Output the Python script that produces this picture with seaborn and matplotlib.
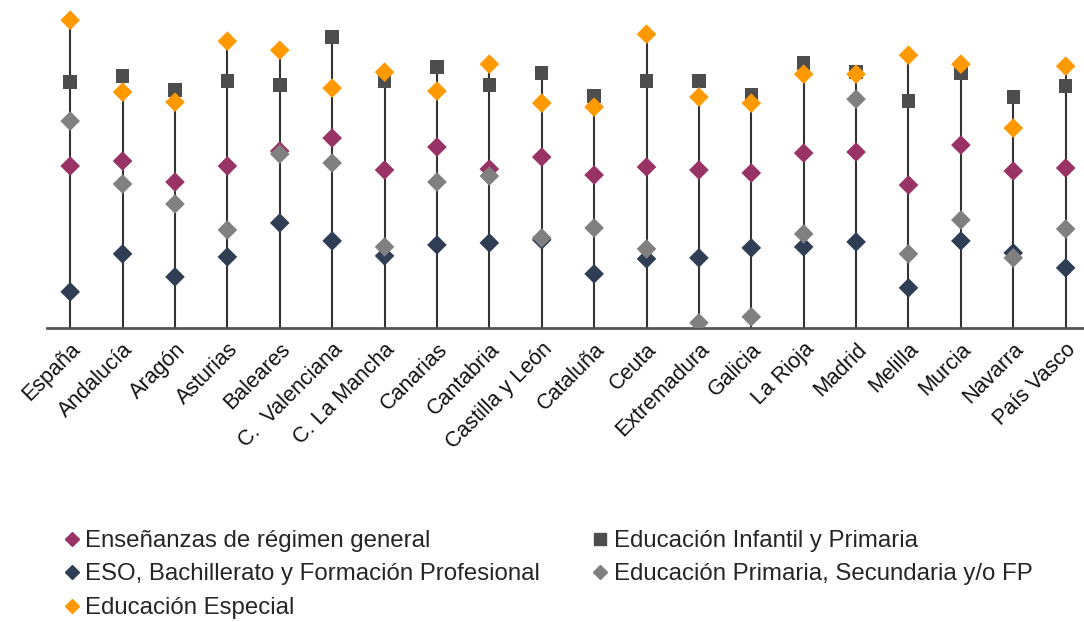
import matplotlib
matplotlib.use("Agg")
import matplotlib.pyplot as plt
from matplotlib.lines import Line2D
import pandas as pd
import seaborn as sns

# heights above the baseline (arbitrary units)
regions = [
    "España", "Andalucía", "Aragón", "Asturias", "Baleares", "C.  Valenciana",
    "C. La Mancha", "Canarias", "Cantabria", "Castilla y León", "Cataluña",
    "Ceuta", "Extremadura", "Galicia", "La Rioja", "Madrid", "Melilla",
    "Murcia", "Navarra", "País Vasco",
]
general = [162, 167, 146, 162, 177, 190, 158, 181, 159, 171, 153,
           161, 158, 155, 175, 176, 143, 183, 157, 160]
infantil_primaria = [246, 252, 238, 247, 243, 291, 247, 261, 243, 255, 232,
                     247, 247, 233, 265, 256, 227, 255, 231, 242]
eso_bach_fp = [36, 74, 51, 71, 105, 87, 72, 83, 85, 88, 54,
               69, 70, 80, 81, 86, 40, 87, 75, 60]
primaria_secundaria_fp = [207, 144, 124, 98, 174, 165, 81, 146, 152, 90, 100,
                          79, 5, 11, 94, 229, 74, 108, 70, 99]
especial = [308, 236, 226, 287, 278, 240, 256, 237, 264, 225, 221,
            294, 231, 225, 254, 254, 273, 264, 200, 262]

series_names = [
    "Enseñanzas de régimen general",
    "Educación Infantil y Primaria",
    "ESO, Bachillerato y Formación Profesional",
    "Educación Primaria, Secundaria y/o FP",
    "Educación Especial",
]
series_values = [general, infantil_primaria, eso_bach_fp,
                 primaria_secundaria_fp, especial]
colors = ["#993366", "#4d4d4d", "#2f3e55", "#808080", "#ff9900"]
markers = ["D", "s", "D", "D", "D"]

df = pd.DataFrame({"region": regions})
for name, vals in zip(series_names, series_values):
    df[name] = vals
long_df = df.melt(id_vars="region", var_name="serie", value_name="valor")

sns.set_theme(style="white")
plt.rcParams["font.family"] = ["Liberation Sans", "DejaVu Sans"]

fig = plt.figure(figsize=(10.84, 6.22), dpi=100)
ax = fig.add_axes([0.043, 0.473, 0.957, 0.517])

# drop lines from the baseline up to the highest marker in each region
tops = df[series_names].max(axis=1)
ax.vlines(range(len(regions)), 0, tops, color="#333333", linewidth=1.5, zorder=1)

for i, name in enumerate(series_names):
    sub = long_df[long_df["serie"] == name]
    sns.scatterplot(
        data=sub, x="region", y="valor", ax=ax,
        marker=markers[i], color=colors[i],
        s=100 if markers[i] == "D" else 95,
        edgecolor="none", linewidth=0, zorder=3 + i, legend=False,
    )

ax.set_xlim(-0.45, len(regions) - 0.65)
ax.set_ylim(0, 322)
ax.set_xlabel("")
ax.set_ylabel("")
ax.set_yticks([])
ax.tick_params(axis="x", length=0, pad=8)
plt.setp(ax.get_xticklabels(), rotation=45, ha="right", rotation_mode="anchor",
         fontsize=15.5, color="#111111")
for side in ["top", "right", "left"]:
    ax.spines[side].set_visible(False)
ax.spines["bottom"].set_color("#555555")
ax.spines["bottom"].set_linewidth(2)

# legend, column-wise order so rows read like the reference
order = [0, 2, 4, 1, 3]
handles = [
    Line2D([], [], linestyle="none", marker=markers[i], color=colors[i],
           markersize=7 if markers[i] == "D" else 8)
    for i in order
]
labels = [series_names[i] for i in order]
fig.legend(handles, labels, loc="upper left", bbox_to_anchor=(0.06, 0.148),
           ncol=2, frameon=False, fontsize=17.3, handlelength=0.6,
           handletextpad=0.25, columnspacing=2.2, labelspacing=0.48,
           borderaxespad=0, borderpad=0)

fig.savefig("out.png", dpi=100)
